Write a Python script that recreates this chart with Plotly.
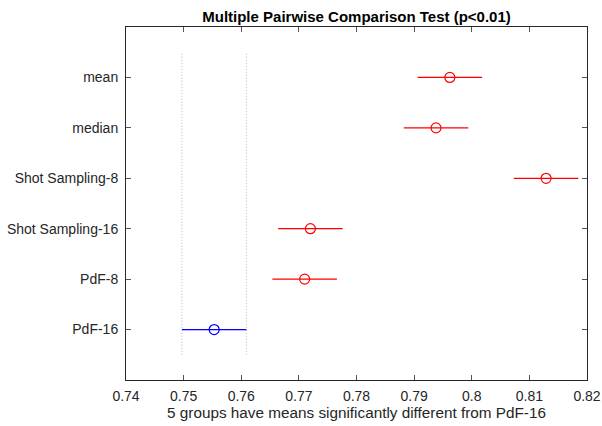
import plotly.graph_objects as go

# Data (top to bottom as displayed)
groups = ["mean", "median", "Shot Sampling-8", "Shot Sampling-16", "PdF-8", "PdF-16"]
group_means = [0.7962, 0.7938, 0.8129, 0.7720, 0.7710, 0.7553]
half_widths = [0.0056, 0.0056, 0.0056, 0.0056, 0.0056, 0.0056]
control_group = "PdF-16"
x_ticks = [0.74, 0.75, 0.76, 0.77, 0.78, 0.79, 0.80, 0.81, 0.82]
x_tick_labels = ["0.74", "0.75", "0.76", "0.77", "0.78", "0.79", "0.8", "0.81", "0.82"]
title_text = "Multiple Pairwise Comparison Test (p<0.01)"
xlabel_text = "5 groups have means significantly different from PdF-16"

n = len(groups)
ypos = [n - i for i in range(n)]

W, H = 602, 426

fig = go.Figure()

# control-group interval reference lines
ci = groups.index(control_group)
lo = group_means[ci] - half_widths[ci]
hi = group_means[ci] + half_widths[ci]
for xv in (lo, hi):
    fig.add_trace(go.Scatter(
        x=[xv, xv], y=[0.5, n + 0.5], mode="lines",
        line=dict(color="#b8b8b8", width=1, dash="1px,2px"),
        hoverinfo="skip", showlegend=False))

for g, m, h, y in zip(groups, group_means, half_widths, ypos):
    col = "#0000ff" if g == control_group else "#ff0000"
    fig.add_trace(go.Scatter(
        x=[m], y=[y], mode="markers",
        marker=dict(symbol="circle-open", size=10, color=col, line=dict(width=1.2, color=col)),
        error_x=dict(type="data", array=[h], symmetric=True, width=0, thickness=1.2, color=col),
        showlegend=False))

axis_col = "#262626"
fig.update_layout(
    width=W, height=H,
    margin=dict(l=125.5, r=14.5, t=27, b=46, autoexpand=False),
    paper_bgcolor="white", plot_bgcolor="white",
    font=dict(family="Liberation Sans, Arial, sans-serif", size=14, color=axis_col),
    title=dict(text="<b>" + title_text + "</b>", x=0.5, xanchor="center", xref="paper",
               y=1 - 16.5 / H, yanchor="middle",
               font=dict(size=15, color="#000000")),
    xaxis=dict(range=[0.74, 0.82], tickvals=x_ticks, ticktext=x_tick_labels,
               showgrid=False, zeroline=False, showline=True, linecolor=axis_col, linewidth=1,
               mirror="ticks", ticks="inside", ticklen=5, tickcolor="#555555",
               tickfont=dict(size=14, color=axis_col), automargin=False, ticklabelstandoff=3,
               title=dict(text=xlabel_text, font=dict(size=15.3, color=axis_col), standoff=4)),
    yaxis=dict(range=[0, n + 1], tickvals=ypos, ticktext=groups,
               showgrid=False, zeroline=False, showline=True, linecolor=axis_col, linewidth=1,
               mirror="ticks", ticks="inside", ticklen=5, tickcolor="#555555",
               tickfont=dict(size=14, color=axis_col), automargin=False, ticklabelstandoff=4),
)

fig.write_html(
    "out.html",
    config={"displayModeBar": False},
    post_script="document.body.style.margin='0';document.body.style.overflow='hidden';",
)
